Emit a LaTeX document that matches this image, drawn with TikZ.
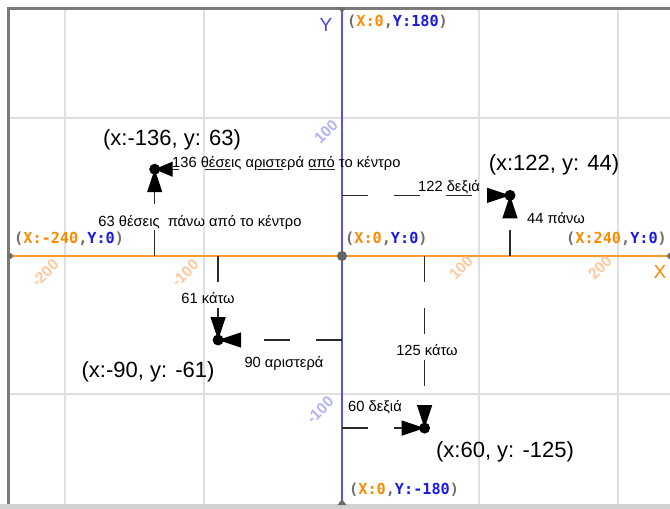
\documentclass[tikz,border=0pt]{standalone}
\usepackage{fontspec}
\setmainfont{Liberation Sans}
\newfontfamily\pixfont{DejaVu Sans Mono}
\usetikzlibrary{arrows.meta}
\definecolor{axorange}{HTML}{FF9A33}
\definecolor{axblue}{HTML}{5555E0}
\definecolor{laborange}{HTML}{FF8A00}
\definecolor{labblue}{HTML}{1A1AE6}
\definecolor{labgray}{HTML}{6E6E6E}
\definecolor{tickorange}{HTML}{FFC89E}
\definecolor{tickblue}{HTML}{B4B4F2}
\definecolor{gridcol}{HTML}{E0E0E0}
\definecolor{framecol}{HTML}{7A7A7A}
\definecolor{bandcol}{HTML}{D2D2D2}
\definecolor{linecol}{HTML}{2A2A2A}
\begin{document}
\begin{tikzpicture}[x=1pt,y=-1pt,
  gridline/.style={draw=gridcol,line width=1.2pt},
  conn/.style={draw=linecol,line width=1.3pt,dash pattern=on 26pt off 26pt,
     -{Triangle[length=23pt,width=15pt,color=black]}},
  dotmark/.style={fill=black},
  small/.style={inner sep=0pt,font=\fontsize{14.7}{16}\selectfont},
  coordlab/.style={inner sep=0pt,font=\fontsize{22}{26}\selectfont},
  axlab/.style={inner sep=0pt,font=\pixfont\bfseries\fontsize{15.2}{16}\selectfont},
  ticko/.style={inner sep=0pt,rotate=45,text=tickorange,font=\bfseries\fontsize{15.5}{16}\selectfont},
  tickb/.style={inner sep=0pt,rotate=45,text=tickblue,font=\bfseries\fontsize{15.5}{16}\selectfont},
  axname/.style={inner sep=0pt,font=\fontsize{19}{20}\selectfont}]
\useasboundingbox (0,0) rectangle (670,509);
\fill[white] (0,0) rectangle (670,509);
% grid
\foreach \gx in {65,204,479,618} \draw[gridline] (\gx,10) -- (\gx,504);
\foreach \gy in {118,394} \draw[gridline] (10,\gy) -- (670,\gy);
% frame
\fill[bandcol] (0,504) rectangle (670,509);
\draw[framecol,line width=3pt] (8.5,504) -- (8.5,8.5) -- (670,8.5);
% axes
\coordinate (O) at (342,256);
\coordinate (Ytop) at (342,9);
\coordinate (Ybot) at (342,504);
\coordinate (Xl) at (10,256);
\coordinate (Xr) at (670,256);
\draw[axblue,line width=2pt] (Ytop) -- (Ybot);
\draw[axorange,line width=2pt] (Xl) -- (Xr);
\fill[labgray] (337.5,7) -- (346.5,7) -- (342,13) -- cycle;
\fill[labgray] (337.5,505) -- (346.5,505) -- (342,499) -- cycle;
\fill[labgray] (Xl) circle (3);
\fill[labgray] (Xr) circle (3);
\fill[labgray!90!black] (O) circle (5);
% axis names
\node[axname,text=axblue!80!blue] (ny) at (326,25) {Y};
\node[axname,text=laborange] (nx) at (660,272) {X};
% axis end labels
\node[axlab,anchor=west] (l180) at (347,22) {\color{labgray}(\color{laborange}X:0\color{labgray},\color{labblue}Y:180\color{labgray})};
\node[axlab,anchor=west] (lm240) at (14,239) {\color{labgray}(\color{laborange}X:-240\color{labgray},\color{labblue}Y:0\color{labgray})};
\node[axlab,anchor=west] (l00) at (345,239) {\color{labgray}(\color{laborange}X:0\color{labgray},\color{labblue}Y:0\color{labgray})};
\node[axlab,anchor=west] (l240) at (566,239) {\color{labgray}(\color{laborange}X:240\color{labgray},\color{labblue}Y:0\color{labgray})};
\node[axlab,anchor=west] (lm180) at (349,490) {\color{labgray}(\color{laborange}X:0\color{labgray},\color{labblue}Y:-180\color{labgray})};
% tick labels
\node[ticko] (tm200) at (45,273) {-200};
\node[ticko] (tm100) at (185,273) {-100};
\node[ticko] (t100) at (461,268) {100};
\node[ticko] (t200) at (600,268) {200};
\node[tickb] (ty100) at (326,132) {100};
\node[tickb] (tym100) at (320,410) {-100};
% points
\coordinate (A) at (154.7,169.2);
\coordinate (B) at (510.0,195.4);
\coordinate (C) at (218.1,340.0);
\coordinate (D) at (424.6,428.1);
% connectors
\draw[conn,dash phase=45pt,-{Triangle[length=18pt,width=15pt,color=black]}] (A -| O) -- (A);
\draw[conn] (A |- O) -- (A);
\draw[conn] (B -| O) -- (B);
\draw[conn] (B |- O) -- (B);
\draw[conn] (C -| O) -- (C);
\draw[conn] (C |- O) -- (C);
\draw[conn] (D -| O) -- (D);
\draw[conn] (D |- O) -- (D);
\foreach \p in {A,B,C,D} \fill[dotmark] (\p) circle (5.5);
% texts
\node[small,anchor=base west] (ta1) at (172,167.5) {136 θέσεις αριστερά από το κέντρο};
\node[small] (ta2) at (200,222) {63 θέσεις\ \ πάνω από το κέντρο};
\node[small,anchor=base west] (tb1) at (418,191) {122 δεξιά};
\node[small,anchor=west] (tb2) at (527,218) {44 πάνω};
\node[small] (tc1) at (208,298) {61 κάτω};
\node[small] (tc2) at (284,363) {90 αριστερά};
\node[small] (td1) at (427,350) {125 κάτω};
\node[small] (td2) at (375,407) {60 δεξιά};
\node[coordlab] (ca) at (172,140) {(x:-136, y: 63)};
\node[coordlab] (cb) at (554,165) {(x:122, y: 44)};
\node[coordlab] (cc) at (148,372) {(x:-90, y: -61)};
\node[coordlab] (cd) at (505,452) {(x:60, y: -125)};
\end{tikzpicture}
\end{document}
